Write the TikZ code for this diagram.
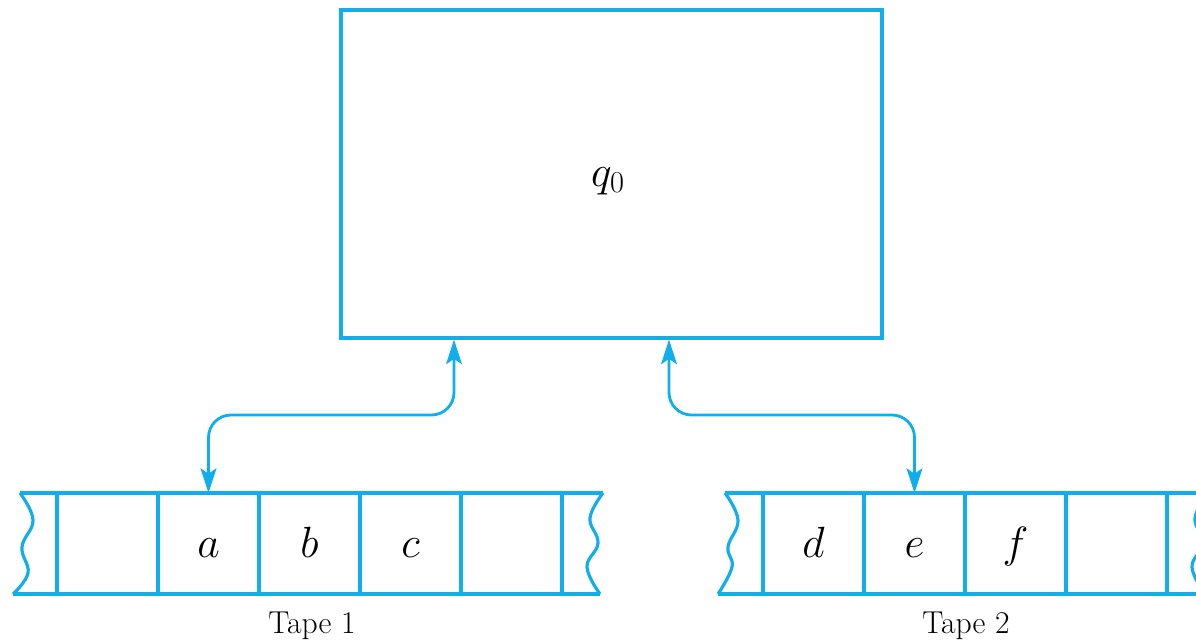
\documentclass[tikz,border=0pt]{standalone}
\usetikzlibrary{positioning,arrows.meta}
\definecolor{tmblue}{RGB}{16,174,234}
\tikzset{
  tape/.style={tmblue, line width=1.8pt},
  cell/.style={draw=tmblue, line width=1.8pt, minimum width=2.02cm, minimum height=2.02cm,
    outer sep=0pt, inner sep=0pt, text height=16pt, text depth=0pt,
    font=\fontsize{25}{30}\selectfont},
  head/.style={tmblue, line width=1.6pt, rounded corners=0.45cm,
    {Stealth[length=14pt,width=9pt,inset=3pt]}-{Stealth[length=14pt,width=9pt,inset=3pt]}},
  tapelabel/.style={font=\fontsize{18}{21}\selectfont},
}
\begin{document}
\begin{tikzpicture}
    \clip (0,0) rectangle (23.92,12.84);
    % control unit
    \node[draw=tmblue, line width=1.8pt, minimum width=10.82cm, minimum height=6.56cm] (ctrl) at (12.23,9.36) {};
    \node[font=\fontsize{25}{30}\selectfont] (q0) at (12.16,9.22) {$q_0$};
    % tape 1
    \node[cell] (c10) at (2.15,1.97) {};
    \node[cell, right=0pt of c10] (c11) {$a$};
    \node[cell, right=0pt of c11] (c12) {$b$};
    \node[cell, right=0pt of c12] (c13) {$c$};
    \node[cell, right=0pt of c13] (c14) {};
    \draw[tape] (0.40,2.98) -- (12.06,2.98);
    \draw[tape] (0.26,0.96) -- (12.00,0.96);
    \draw[tape] plot[smooth, tension=0.7] coordinates {(0.40,2.98) (0.66,2.44) (0.44,1.90) (0.56,1.38) (0.26,0.96)};
    \draw[tape] plot[smooth, tension=0.7] coordinates {(12.06,2.98) (11.80,2.48) (11.96,1.98) (11.74,1.50) (12.00,0.96)};
    \node[tapelabel] (lab1) at (6.24,0.32) {Tape 1};
    % tape 2
    \node[cell] (c20) at (16.27,1.97) {$d$};
    \node[cell, right=0pt of c20] (c21) {$e$};
    \node[cell, right=0pt of c21] (c22) {$f$};
    \node[cell, right=0pt of c22] (c23) {};
    \draw[tape] (14.50,2.98) -- (25,2.98);
    \draw[tape] (14.36,0.96) -- (25,0.96);
    \draw[tape] plot[smooth, tension=0.7] coordinates {(14.50,2.98) (14.76,2.44) (14.56,1.90) (14.64,1.50) (14.36,0.96)};
    \draw[tape] plot[smooth, tension=0.7] coordinates {(24.16,2.98) (23.90,2.48) (24.06,1.98) (23.84,1.50) (24.10,0.96)};
    \node[tapelabel] (lab2) at (19.32,0.32) {Tape 2};
    % read/write heads
    \coordinate (h1) at ([xshift=-3.15cm]ctrl.south);
    \coordinate (h2) at ([xshift=1.15cm]ctrl.south);
    \draw[head] (c11.north) -- ++(0,1.56) -| (h1);
    \draw[head] (c21.north) -- ++(0,1.56) -| (h2);
\end{tikzpicture}
\end{document}
